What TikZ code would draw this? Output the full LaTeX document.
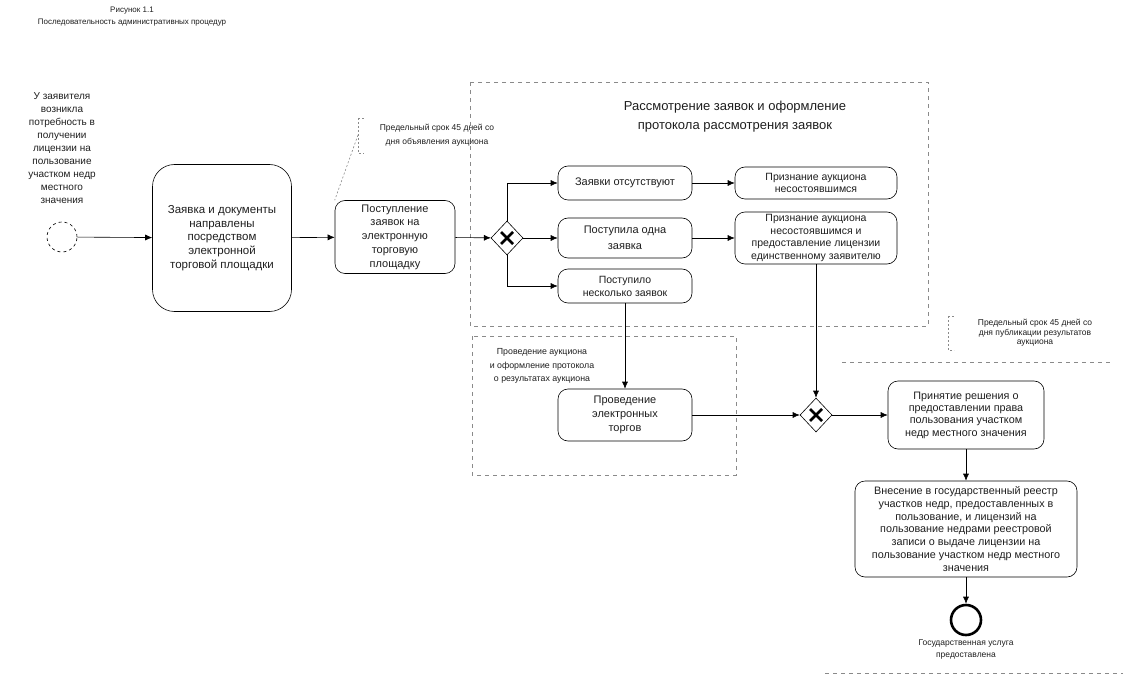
\documentclass[tikz,border=0pt]{standalone}
\usepackage{fontspec}
\setmainfont{Liberation Sans}
\usetikzlibrary{shapes.geometric,arrows.meta,positioning}
\definecolor{mgray}{HTML}{8A8A8A}
\definecolor{mink}{HTML}{1E1E1E}
\tikzstyle{l1}=[line width=0.6]
\tikzstyle{task}=[rectangle, rounded corners=10pt, draw=black, l1, align=center, inner sep=0pt, text=mink, font=\fontsize{11}{13.8}\selectfont]
\tikzstyle{gate}=[diamond, draw=black, l1, minimum width=32pt, minimum height=34pt, inner sep=0pt, fill=white]
\tikzstyle{flow}=[l1, -{Latex[length=7pt,width=6pt]}]
\tikzstyle{grp}=[draw=mgray, dash pattern=on 4pt off 4pt, line width=0.5]
\tikzstyle{assoc}=[draw=mgray, dash pattern=on 2pt off 2pt, line width=0.6]
\tikzstyle{note}=[align=center, inner sep=0pt, text=mink, font=\fontsize{8.5}{11}\selectfont]
\newcommand{\gwcross}[1]{\draw[line width=2.6pt] ([shift={(-6,-6)}]#1.center) -- ([shift={(6,6)}]#1.center) ([shift={(-6,6)}]#1.center) -- ([shift={(6,-6)}]#1.center);}

\begin{document}
\begin{tikzpicture}[x=1pt, y=-1pt]
    \useasboundingbox (0,0) rectangle (1123,684);

    \node[note, font=\fontsize{8}{12}\selectfont] at (132,17) (title) {Рисунок 1.1\\Последовательность административных процедур};

    % groups
    \draw[grp] (470,82) rectangle (928,326);
    \draw[grp] (472,336) rectangle (736,475);
    \draw[grp] (842,362) -- (1112,362);
    \draw[grp] (825,673) -- (1123,673);
    \node[note, font=\fontsize{13}{19}\selectfont] at (735,117) (grp1lbl) {Рассмотрение заявок и оформление\\протокола рассмотрения заявок};
    \node[note, font=\fontsize{8.8}{13.5}\selectfont] at (542,366) (grp2lbl) {Проведение аукциона\\и оформление протокола\\о результатах аукциона};

    % start
    \node[circle, draw=black, l1, dashed, minimum size=30pt, inner sep=0pt] at (62,237) (start) {};
    \node[note, font=\fontsize{10}{13}\selectfont] at (62,148) (startlbl) {У заявителя\\возникла\\потребность в\\получении\\лицензии на\\пользование\\участком недр\\местного\\значения};

    \node[task, rounded corners=22pt, minimum width=139pt, minimum height=147pt, font=\fontsize{11.5}{13.6}\selectfont] at (222,238) (apply) {Заявка и документы\\направлены\\посредством\\электронной\\торговой площадки};
    \node[task, minimum width=120pt, minimum height=73pt] at (395,237) (receive) {Поступление\\заявок на\\электронную\\торговую\\площадку};

    % annotation 1
    \node[note, font=\fontsize{8.5}{14}\selectfont] at (437,135) (ann1) {Предельный срок 45 дней со\\дня объявления аукциона};
    \coordinate (a1t) at (358,118);
    \coordinate (a1b) at (358,153);
    \draw[assoc] (a1t) -- ++(6,0) (a1t) -- (a1b) -- ++(6,0);
    \coordinate (a1m) at (358,135);
    \draw[assoc] (a1m) -- (receive.north west);

    \node[gate] at (507,238) (gw1) {};
    \gwcross{gw1}

    \node[task, minimum width=134pt, minimum height=34pt] at (625,183) (noapp) {Заявки отсутствуют};
    \node[task, minimum width=134pt, minimum height=40pt, font=\fontsize{11}{16}\selectfont] at (625,238) (oneapp) {Поступила одна\\заявка};
    \node[task, minimum width=134pt, minimum height=34pt, font=\fontsize{10.5}{13}\selectfont] at (625,286) (manyapp) {Поступило\\несколько заявок};

    \node[task, font=\fontsize{10.5}{11.5}\selectfont, minimum width=162pt, minimum height=32pt] at (816,183) (failed) {Признание аукциона\\несостоявшимся};
    \node[task, font=\fontsize{10.5}{12.5}\selectfont, minimum width=162pt, minimum height=52pt] at (816,238) (single) {Признание аукциона\\несостоявшимся и\\предоставление лицензии\\единственному заявителю};

    \node[task, minimum width=134pt, minimum height=52pt] at (625,415) (auction) {Проведение\\электронных\\торгов};
    \node[gate] at (816,415) (gw2) {};
    \gwcross{gw2}

    \node[task, font=\fontsize{10.8}{12.3}\selectfont, minimum width=156pt, minimum height=68pt] at (966,415) (decide) {Принятие решения о\\предоставлении права\\пользования участком\\недр местного значения};

    % annotation 2
    \node[note, font=\fontsize{8.5}{9.5}\selectfont] at (1035,333) (ann2) {Предельный срок 45 дней со\\дня публикации результатов\\аукциона};
    \coordinate (a2t) at (948,316);
    \coordinate (a2b) at (948,350);
    \draw[assoc] (a2t) -- ++(6,0) (a2t) -- (a2b) -- ++(6,0);

    \node[task, font=\fontsize{10.8}{12.8}\selectfont, minimum width=222pt, minimum height=96pt] at (966,529) (register) {Внесение в государственный реестр\\участков недр, предоставленных в\\пользование, и лицензий на\\пользование недрами реестровой\\записи о выдаче лицензии на\\пользование участком недр местного\\значения};

    \node[circle, draw=black, line width=2.6pt, minimum size=30pt, inner sep=0pt] at (966,620) (finish) {};
    \node[note, font=\fontsize{8.5}{12}\selectfont] at (966,649) (finlbl) {Государственная услуга\\предоставлена};

    % flows
    \draw[flow] (start) -- (apply);
    \draw[flow] (apply) -- (receive);
    \draw[flow] (receive) -- (gw1);
    \draw[flow] (gw1.north) |- (noapp.west);
    \draw[flow] (gw1) -- (oneapp);
    \draw[flow] (gw1.south) |- (manyapp.west);
    \draw[flow] (noapp) -- (failed);
    \draw[flow] (oneapp) -- (single);
    \draw[flow] (manyapp) -- (auction);
    \draw[flow] (auction) -- (gw2);
    \draw[flow] (single) -- (gw2);
    \draw[flow] (gw2) -- (decide);
    \draw[flow] (decide) -- (register);
    \draw[flow] (register) -- (finish);
\end{tikzpicture}
\end{document}
